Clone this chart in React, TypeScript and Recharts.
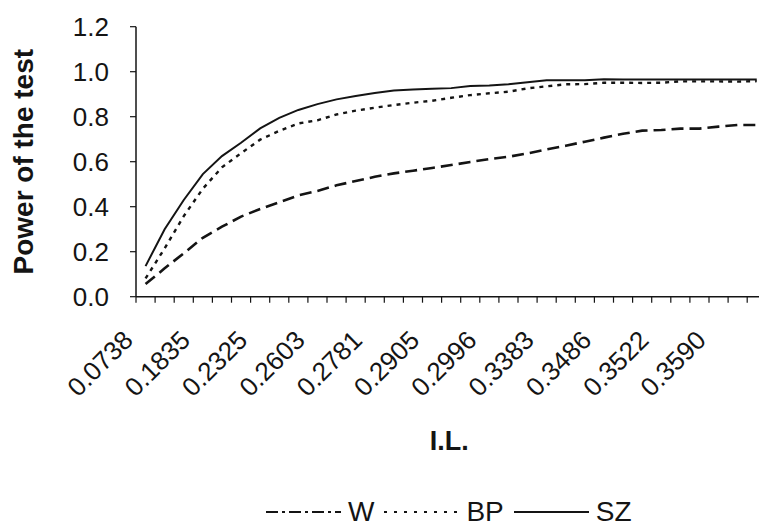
import React from 'react';
import { LineChart, Line, XAxis, YAxis, Legend, Label } from 'recharts';

// I.L. tick labels (every third category is labelled)
const ilLabels = ['0.0738', '0.1835', '0.2325', '0.2603', '0.2781', '0.2905', '0.2996', '0.3383', '0.3486', '0.3522', '0.3590'];
const categoryCount = 33;
const seriesNames = ['W', 'BP', 'SZ'];

const wValues = [0.056, 0.126, 0.193, 0.262, 0.311, 0.356, 0.39, 0.42, 0.45, 0.47, 0.495, 0.514, 0.533, 0.548, 0.56, 0.572, 0.585, 0.599, 0.612, 0.622, 0.637, 0.655, 0.671, 0.689, 0.707, 0.724, 0.738, 0.741, 0.747, 0.747, 0.756, 0.763, 0.763];
const bpValues = [0.081, 0.215, 0.358, 0.48, 0.575, 0.638, 0.698, 0.737, 0.77, 0.784, 0.81, 0.827, 0.84, 0.852, 0.862, 0.871, 0.884, 0.896, 0.904, 0.911, 0.926, 0.935, 0.944, 0.945, 0.951, 0.951, 0.95, 0.951, 0.957, 0.957, 0.957, 0.956, 0.958];
const szValues = [0.136, 0.3, 0.43, 0.545, 0.625, 0.684, 0.748, 0.795, 0.83, 0.856, 0.877, 0.892, 0.905, 0.916, 0.921, 0.924, 0.927, 0.936, 0.939, 0.944, 0.953, 0.962, 0.962, 0.962, 0.966, 0.965, 0.965, 0.965, 0.965, 0.965, 0.965, 0.965, 0.965];

const yTicks = [0, 0.2, 0.4, 0.6, 0.8, 1.0, 1.2];

const data = wValues.map((w, i) => ({ pos: i + 0.5, W: w, BP: bpValues[i], SZ: szValues[i] }));
const boundaryTicks = Array.from({ length: categoryCount + 1 }, (_, k) => k);

const FONT = '"Liberation Sans", Arial, Helvetica, sans-serif';
const INK = '#141414';

const legendDash: Record<string, string | undefined> = { W: '12 4 3 4', BP: '3 7', SZ: undefined };

const XTick = (props: any) => {
  const { x, y, payload } = props;
  const k = payload.value as number;
  if (k % 3 !== 0 || k / 3 >= ilLabels.length) return <g />;
  const ax = x - 1.5;
  const ay = y + 37;
  return (
    <text x={ax} y={ay} textAnchor="end" transform={`rotate(-45, ${ax}, ${ay})`} fontSize={26} fontFamily={FONT} fill={INK}>
      {ilLabels[k / 3]}
    </text>
  );
};

const LegendContent = (props: any) => {
  const payload = [...(props.payload || [])].sort(
    (a: any, b: any) => seriesNames.indexOf(a.value) - seriesNames.indexOf(b.value)
  );
  return (
    <div style={{ display: 'flex', alignItems: 'center', fontFamily: FONT, fontSize: 28, color: INK, whiteSpace: 'nowrap' }}>
      {payload.map((entry: any) => (
        <div key={entry.value} style={{ display: 'flex', alignItems: 'center', marginRight: 10 }}>
          <svg width={75} height={10} style={{ marginRight: 7, display: 'block' }}>
            <line x1={0} y1={5} x2={75} y2={5} stroke={INK} strokeWidth={entry.value === 'SZ' ? 1.8 : 2.2} strokeDasharray={legendDash[entry.value]} />
          </svg>
          <span>{entry.value}</span>
        </div>
      ))}
    </div>
  );
};

export default function App() {
  return (
    <div style={{ position: 'absolute', left: 0, top: 0, width: 759, height: 528, overflow: 'hidden', background: '#fff' }}>
      <LineChart width={780} height={528} data={data} margin={{ top: 26.7, right: 13.7, left: 0, bottom: 0 }}>
        <XAxis
          type="number"
          dataKey="pos"
          domain={[0, categoryCount]}
          ticks={boundaryTicks}
          interval={0}
          height={231.3}
          tickSize={6}
          tick={<XTick />}
          axisLine={{ stroke: INK, strokeWidth: 1.5 }}
          tickLine={{ stroke: INK, strokeWidth: 1.2 }}
        >
          <Label value="I.L." position="insideTop" offset={134} dx={-2} fontSize={27} fontWeight="bold" fontFamily={FONT} fill={INK} />
        </XAxis>
        <YAxis
          width={136}
          domain={[0, 1.2]}
          ticks={yTicks}
          interval={0}
          tickSize={6}
          tickMargin={21}
          tickFormatter={(v: number) => v.toFixed(1)}
          tick={{ fontSize: 26, fontFamily: FONT, fill: INK }}
          axisLine={{ stroke: INK, strokeWidth: 1.5 }}
          tickLine={{ stroke: INK, strokeWidth: 1.2 }}
        >
          <Label
            content={(p: any) => {
              const vb = p.viewBox || {};
              const cy = vb.y + vb.height / 2;
              return (
                <text x={33.5} y={cy} textAnchor="middle" transform={`rotate(-90, 33.5, ${cy})`} fontSize={28} fontWeight="bold" fontFamily={FONT} fill={INK}>
                  Power of the test
                </text>
              );
            }}
          />
        </YAxis>
        <Legend
          verticalAlign="middle"
          align="center"
          layout="horizontal"
          content={<LegendContent />}
          wrapperStyle={{ left: 266, top: 496, width: 480 }}
        />
        <Line type="linear" dataKey="W" name="W" stroke={INK} strokeWidth={2.6} strokeDasharray="12 6" dot={false} isAnimationActive={false} />
        <Line type="linear" dataKey="BP" name="BP" stroke={INK} strokeWidth={2.4} strokeDasharray="4 5" dot={false} isAnimationActive={false} />
        <Line type="linear" dataKey="SZ" name="SZ" stroke={INK} strokeWidth={2} dot={false} isAnimationActive={false} />
      </LineChart>
    </div>
  );
}
